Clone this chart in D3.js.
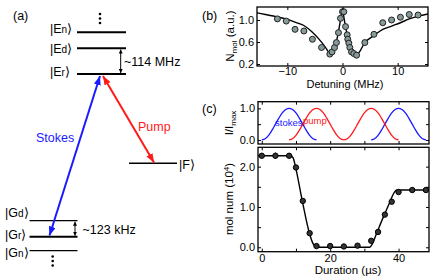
<!DOCTYPE html>
<html>
<head>
<meta charset="utf-8">
<script src="https://cdn.jsdelivr.net/npm/d3@7"></script>
<style>
  body { margin: 0; background: #fff; }
  svg text { font-family: "Liberation Sans", Arial, sans-serif; fill: #000; }
</style>
</head>
<body>
<div id="chart"></div>
<script>
// ---- panel (b): molecule number vs detuning ----
const detuning = [-11.8, -10.2, -8.6, -7.0, -5.45, -3.8, -2.3, -1.9, -1.45, -1.1, -0.73, -0.36, 0, 0.24,
                  0.55, 0.85, 0.96, 1.15, 1.33, 1.64, 2.05, 2.55, 4.05, 5.7, 7.3, 8.9, 10.5, 12.1, 13.7];
const nmol = [1.02, 0.98, 0.83, 0.80, 0.65, 0.50, 0.38, 0.42, 0.50, 0.59, 0.77, 1.03, 1.15, 1.15,
              0.88, 0.73, 0.65, 0.58, 0.50, 0.42, 0.39, 0.36, 0.59, 0.74, 0.95, 1.00, 1.05, 1.10, 1.09];
const fitDetuning = [-15.5, -14, -12, -10, -8.6, -7, -5.5, -4, -3, -2.3, -1.8, -1.5, -1.1, -0.73, -0.36, 0,
                     0.3, 0.55, 1.0, 1.33, 1.64, 2.05, 2.7, 3.2, 4.05, 5.0, 5.7, 7.3, 8.9, 10.5, 12.1, 13.7, 15.5];
const fitNmol = [1.13, 1.10, 1.06, 1.01, 0.96, 0.90, 0.78, 0.62, 0.49, 0.40, 0.45, 0.51, 0.61, 0.79, 1.0, 1.18,
                 1.02, 0.88, 0.66, 0.52, 0.45, 0.41, 0.38, 0.44, 0.59, 0.67, 0.72, 0.83, 0.89, 0.95, 1.02, 1.07, 1.11];

// ---- panel (c) top: pulse intensities ----
const pulseOffsets = [0, 1, 2, 3, 4, 5, 6, 7, 8, 9, 10, 11, 12, 13, 14, 15, 16];
const pulseShape = [0, 0.038, 0.146, 0.309, 0.5, 0.691, 0.854, 0.962, 1, 0.962, 0.854, 0.691, 0.5, 0.309, 0.146, 0.038, 0];
const stokesStarts = [0, 32];
const pumpStarts = [8, 24];

// ---- panel (c) bottom: molecule number vs duration ----
const duration = [0, 4, 8, 10, 12, 14, 16, 20, 24, 28, 32, 34, 36, 38, 40, 44, 48];
const molNum = [2.27, 2.27, 2.27, 1.98, 1.15, 0.35, 0.03, 0.03, 0.02, 0.04, 0.16, 0.38, 0.81, 1.13, 1.37, 1.42, 1.42];
const molErr = [0.04, 0.08, 0.06, 0.05, 0.05, 0.04, 0.03, 0.04, 0.03, 0.03, 0.05, 0.05, 0.05, 0.05, 0.05, 0.04, 0.06];
const fitDuration = [-1.1, 8.5, 9.2, 9.9, 11.8, 14.0, 15.0, 15.6, 16.2, 31.6, 32.3, 33.7, 35.6, 37.5, 38.4, 39.1, 39.6, 48.9];
const fitMol = [2.27, 2.27, 2.21, 1.98, 1.17, 0.33, 0.09, 0.02, 0, 0, 0.08, 0.37, 0.76, 1.13, 1.31, 1.40, 1.42, 1.42];

const svg = d3.select('#chart').append('svg')
    .attr('width', 436)
    .attr('height', 280);

const BLUE = '#1a1aff', RED = '#ff1a1a';

// box with inward ticks on all four sides
function drawFrame(x, y, opts) {
    const [xl, xr] = x.range();
    const [yb, yt] = y.range();
    const g = svg.append('g').attr('class', 'frame');

    const bottom = g.append('g').attr('transform', `translate(0,${yb})`)
        .call(d3.axisBottom(x).tickValues(opts.xTicks).tickSizeInner(-3).tickSizeOuter(0)
            .tickPadding(opts.xPad).tickFormat(d => opts.xLabels.includes(d) ? opts.xFmt(d) : ''));
    g.append('g').attr('transform', `translate(0,${yt})`)
        .call(d3.axisTop(x).tickValues(opts.xTicks).tickSizeInner(-3).tickSizeOuter(0).tickFormat(''));
    g.append('g').attr('transform', `translate(${xl},0)`)
        .call(d3.axisLeft(y).tickValues(opts.yTicks).tickSizeInner(-3).tickSizeOuter(0)
            .tickPadding(3).tickFormat(d => opts.yLabels.includes(d) ? d3.format('.1f')(d) : ''));
    g.append('g').attr('transform', `translate(${xr},0)`)
        .call(d3.axisRight(y).tickValues(opts.yTicks).tickSizeInner(-3).tickSizeOuter(0).tickFormat(''));

    g.selectAll('.domain').remove();
    g.selectAll('.tick line').attr('stroke', '#000').attr('stroke-width', 1);
    g.selectAll('.tick text')
        .style('font-size', '11px')
        .style('font-family', '"Liberation Sans", Arial, sans-serif')
        .attr('fill', '#000');
    if (!opts.showX) bottom.selectAll('text').remove();

    g.append('rect')
        .attr('x', xl).attr('y', yt)
        .attr('width', xr - xl).attr('height', yb - yt)
        .attr('fill', 'none').attr('stroke', '#000').attr('stroke-width', 1.3);
}

// ================= panel (b) =================
const xB = d3.scaleLinear().domain([-15.5, 15.5]).range([257, 428]);
const yB = d3.scaleLinear().domain([0.164, 1.236]).range([66, 7]);

svg.append('clipPath').attr('id', 'clipB')
    .append('rect').attr('x', 257).attr('y', 7).attr('width', 171).attr('height', 59);

svg.append('path')
    .datum(fitDetuning.map((d, i) => [d, fitNmol[i]]))
    .attr('clip-path', 'url(#clipB)')
    .attr('fill', 'none')
    .attr('stroke', '#000')
    .attr('stroke-width', 1.4)
    .attr('d', d3.line().x(d => xB(d[0])).y(d => yB(d[1])).curve(d3.curveMonotoneX));

svg.selectAll('.ptB')
    .data(detuning.map((d, i) => ({ x: d, v: nmol[i] })))
    .enter().append('circle')
    .attr('class', 'ptB')
    .attr('cx', d => xB(d.x))
    .attr('cy', d => yB(d.v))
    .attr('r', 3)
    .attr('fill', '#869a9a')
    .attr('stroke', '#222')
    .attr('stroke-width', 1);

drawFrame(xB, yB, {
    xTicks: [-10, 0, 10], xLabels: [-10, 0, 10], xFmt: d3.format('d'), xPad: 1, showX: true,
    yTicks: [0.2, 0.6, 1.0], yLabels: [0.2, 0.6, 1.0]
});

svg.append('text')
    .attr('x', 345).attr('y', 87.5)
    .attr('text-anchor', 'middle')
    .style('font-size', '11px')
    .text('Detuning (MHz)');

const nLabel = svg.append('text')
    .attr('transform', 'translate(234,36) rotate(-90)')
    .attr('text-anchor', 'middle')
    .style('font-size', '11.5px');
nLabel.append('tspan').text('N');
nLabel.append('tspan').attr('dy', 3).style('font-size', '8px').text('mol');
nLabel.append('tspan').attr('dy', -3).text(' (a.u.)');

// ================= panel (c) top =================
const xC = d3.scaleLinear().domain([-1.1, 48.9]).range([258, 429]);
const yCt = d3.scaleLinear().domain([-0.127, 1.21]).range([144, 101.7]);

const pulseLine = d3.line().x(d => xC(d[0])).y(d => yCt(d[1])).curve(d3.curveCatmullRom);
const pulses = [
    ...stokesStarts.map(s => ({ start: s, color: BLUE })),
    ...pumpStarts.map(s => ({ start: s, color: RED }))
];
svg.selectAll('.pulse')
    .data(pulses)
    .enter().append('path')
    .attr('class', 'pulse')
    .attr('fill', 'none')
    .attr('stroke', d => d.color)
    .attr('stroke-width', 1.3)
    .attr('d', d => pulseLine(pulseOffsets.map((o, i) => [d.start + o, pulseShape[i]])));

drawFrame(xC, yCt, {
    xTicks: [0, 10, 20, 30, 40], xLabels: [], xFmt: d3.format('d'), xPad: 2, showX: false,
    yTicks: [0, 0.5, 1], yLabels: [0, 1]
});

svg.append('text').attr('x', 275).attr('y', 126)
    .attr('fill', BLUE).style('fill', BLUE).style('font-size', '9.5px').text('stokes');
svg.append('text').attr('x', 303).attr('y', 124)
    .attr('fill', RED).style('fill', RED).style('font-size', '9.5px').text('pump');

const iLabel = svg.append('text')
    .attr('transform', 'translate(233,123) rotate(-90)')
    .attr('text-anchor', 'middle')
    .style('font-size', '11.5px');
iLabel.append('tspan').text('I/I');
iLabel.append('tspan').attr('dy', 3).style('font-size', '8px').text('max');

// ================= panel (c) bottom =================
const yCb = d3.scaleLinear().domain([-0.11, 2.48]).range([251.7, 147.3]);

svg.append('path')
    .datum(fitDuration.map((d, i) => [d, fitMol[i]]))
    .attr('fill', 'none')
    .attr('stroke', '#000')
    .attr('stroke-width', 1.4)
    .attr('d', d3.line().x(d => xC(d[0])).y(d => yCb(d[1])).curve(d3.curveMonotoneX));

const molPts = duration.map((d, i) => ({ t: d, v: molNum[i], e: molErr[i] }));
svg.selectAll('.errC')
    .data(molPts)
    .enter().append('line')
    .attr('class', 'errC')
    .attr('x1', d => xC(d.t)).attr('x2', d => xC(d.t))
    .attr('y1', d => yCb(d.v - d.e)).attr('y2', d => yCb(d.v + d.e))
    .attr('stroke', '#000').attr('stroke-width', 1);
svg.selectAll('.ptC')
    .data(molPts)
    .enter().append('circle')
    .attr('class', 'ptC')
    .attr('cx', d => xC(d.t))
    .attr('cy', d => yCb(d.v))
    .attr('r', 2.7)
    .attr('fill', '#333')
    .attr('stroke', '#000')
    .attr('stroke-width', 1);

drawFrame(xC, yCb, {
    xTicks: [0, 10, 20, 30, 40], xLabels: [0, 20, 40], xFmt: d3.format('d'), xPad: 3, showX: true,
    yTicks: [0, 0.5, 1, 1.5, 2], yLabels: [0, 1, 2]
});

svg.append('text')
    .attr('x', 348).attr('y', 274)
    .attr('text-anchor', 'middle')
    .style('font-size', '11.5px')
    .text('Duration (\u00b5s)');

const mLabel = svg.append('text')
    .attr('transform', 'translate(233,199) rotate(-90)')
    .attr('text-anchor', 'middle')
    .style('font-size', '11.5px');
mLabel.append('tspan').text('mol num (10');
mLabel.append('tspan').attr('dy', -4).style('font-size', '8px').text('4');
mLabel.append('tspan').attr('dy', 4).text(')');

// ================= panel (a): level diagram =================
const defs = svg.append('defs');
function marker(id, color, w, h) {
    defs.append('marker')
        .attr('id', id)
        .attr('markerUnits', 'userSpaceOnUse')
        .attr('markerWidth', w).attr('markerHeight', h)
        .attr('refX', w).attr('refY', h / 2)
        .attr('orient', 'auto-start-reverse')
        .append('path')
        .attr('d', `M0,0 L${w},${h / 2} L0,${h} z`)
        .attr('fill', color);
}
marker('arrBlue', BLUE, 9, 7);
marker('arrRed', RED, 9, 7);
marker('arrBlack', '#000', 4, 4);

const levels = [
    { label: 'E', sub: 'n', x1: 77, x2: 126, y: 32.3, w: 2, ly: 32.5, lx: 50 },
    { label: 'E', sub: 'd', x1: 77, x2: 126, y: 48.3, w: 2, ly: 52.5, lx: 50 },
    { label: 'E', sub: 'r', x1: 77, x2: 126, y: 74, w: 2, ly: 75.5, lx: 50 },
    { label: 'G', sub: 'd', x1: 29.5, x2: 77.5, y: 220.7, w: 1.3, ly: 217, lx: 5 },
    { label: 'G', sub: 'r', x1: 29.5, x2: 77.5, y: 236.7, w: 2, ly: 238.5, lx: 5 },
    { label: 'G', sub: 'n', x1: 29.5, x2: 77.5, y: 250.7, w: 1.3, ly: 256.5, lx: 5 }
];

const diag = svg.append('g').attr('class', 'diagram');
diag.selectAll('.level')
    .data(levels)
    .enter().append('line')
    .attr('x1', d => d.x1).attr('x2', d => d.x2)
    .attr('y1', d => d.y).attr('y2', d => d.y)
    .attr('stroke', '#000')
    .attr('stroke-width', d => d.w);

levels.forEach(d => {
    const t = diag.append('text').attr('x', d.lx).attr('y', d.ly).style('font-size', '12.5px');
    t.append('tspan').text('|' + d.label);
    t.append('tspan').style('font-size', '10px').text(d.sub);
    t.append('tspan').text('\u27e9');
});

// |F> level
diag.append('line').attr('x1', 129).attr('x2', 177).attr('y1', 163.3).attr('y2', 163.3)
    .attr('stroke', '#000').attr('stroke-width', 1.5);
diag.append('text').attr('x', 179).attr('y', 168.5).style('font-size', '12.5px').text('|F\u27e9');

// vertical dots
[14, 18.5, 23].forEach(y => diag.append('circle').attr('cx', 100).attr('cy', y).attr('r', 1.3).attr('fill', '#000'));
[256.5, 261, 265.5].forEach(y => diag.append('circle').attr('cx', 52.7).attr('cy', y).attr('r', 1.3).attr('fill', '#000'));

// splitting arrows
diag.append('line').attr('x1', 120.7).attr('x2', 120.7).attr('y1', 49.5).attr('y2', 73)
    .attr('stroke', '#000').attr('stroke-width', 1)
    .attr('marker-start', 'url(#arrBlack)').attr('marker-end', 'url(#arrBlack)');
diag.append('text').attr('x', 124).attr('y', 65.5).style('font-size', '12.5px').text('~114 MHz');

diag.append('line').attr('x1', 75).attr('x2', 75).attr('y1', 221.7).attr('y2', 235.7)
    .attr('stroke', '#000').attr('stroke-width', 1)
    .attr('marker-start', 'url(#arrBlack)').attr('marker-end', 'url(#arrBlack)');
diag.append('text').attr('x', 82.5).attr('y', 233.8).style('font-size', '12.5px').text('~123 kHz');

// Stokes and pump arrows
diag.append('line').attr('x1', 49.5).attr('y1', 235.5).attr('x2', 100).attr('y2', 76)
    .attr('stroke', BLUE).attr('stroke-width', 2)
    .attr('marker-start', 'url(#arrBlue)').attr('marker-end', 'url(#arrBlue)');
diag.append('line').attr('x1', 103).attr('y1', 76).attr('x2', 154).attr('y2', 162.5)
    .attr('stroke', RED).attr('stroke-width', 2)
    .attr('marker-start', 'url(#arrRed)').attr('marker-end', 'url(#arrRed)');
diag.append('text').attr('x', 36).attr('y', 141.5).style('font-size', '12.5px')
    .attr('fill', BLUE).style('fill', BLUE).text('Stokes');
diag.append('text').attr('x', 138).attr('y', 130.5).style('font-size', '12.5px')
    .attr('fill', RED).style('fill', RED).text('Pump');

// panel letters
[['(a)', 13, 20], ['(b)', 202, 20], ['(c)', 202, 113]].forEach(([s, x, y]) => {
    svg.append('text').attr('x', x).attr('y', y).style('font-size', '12.5px').text(s);
});
</script>
</body>
</html>
